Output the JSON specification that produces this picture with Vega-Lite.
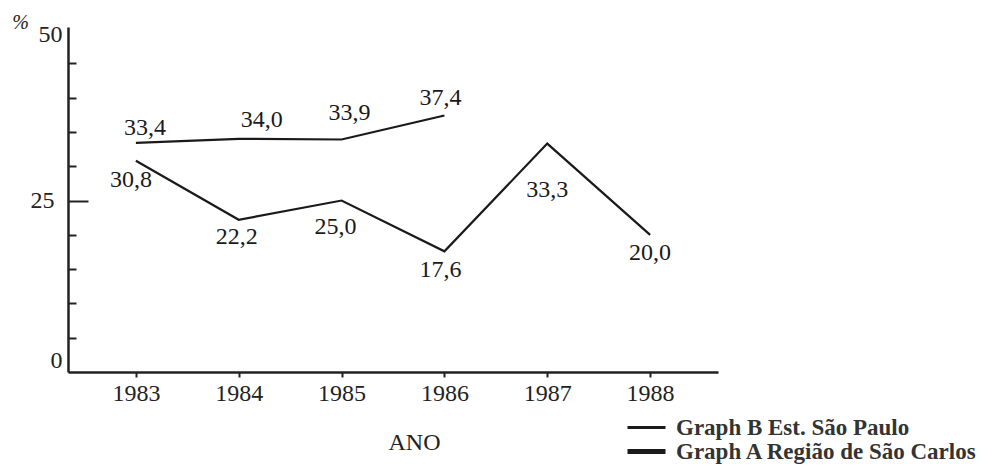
{
  "$schema": "https://vega.github.io/schema/vega-lite/v6.json",
  "width": 650,
  "height": 345,
  "autosize": "none",
  "padding": {"left": 68, "top": 27, "right": 279, "bottom": 93},
  "background": "white",
  "config": {"view": {"stroke": null}, "font": "Liberation Serif", "text": {"fontSize": 24, "color": "#1a1a1a"}},
  "data": {"values": [
    {"ano": "1983", "serie": "Graph B Est. São Paulo", "pct": 33.4, "rotulo": "33,4"},
    {"ano": "1984", "serie": "Graph B Est. São Paulo", "pct": 34.0, "rotulo": "34,0"},
    {"ano": "1985", "serie": "Graph B Est. São Paulo", "pct": 33.9, "rotulo": "33,9"},
    {"ano": "1986", "serie": "Graph B Est. São Paulo", "pct": 37.4, "rotulo": "37,4"},
    {"ano": "1983", "serie": "Graph A Região de São Carlos", "pct": 30.8, "rotulo": "30,8"},
    {"ano": "1984", "serie": "Graph A Região de São Carlos", "pct": 22.2, "rotulo": "22,2"},
    {"ano": "1985", "serie": "Graph A Região de São Carlos", "pct": 25.0, "rotulo": "25,0"},
    {"ano": "1986", "serie": "Graph A Região de São Carlos", "pct": 17.6, "rotulo": "17,6"},
    {"ano": "1987", "serie": "Graph A Região de São Carlos", "pct": 33.3, "rotulo": "33,3"},
    {"ano": "1988", "serie": "Graph A Região de São Carlos", "pct": 20.0, "rotulo": "20,0"}
  ]},
  "encoding": {
    "x": {
      "field": "ano", "type": "ordinal",
      "scale": {"type": "point", "padding": 0.66},
      "axis": {
        "title": "ANO", "labelAngle": 0, "labelFontSize": 24, "labelColor": "#222",
        "labelPadding": 4, "tickSize": 5, "tickWidth": 2, "tickColor": "#222",
        "domainColor": "#222", "domainWidth": 2.5, "grid": false,
        "titleFontSize": 24, "titleFontWeight": "normal", "titleColor": "#222",
        "titleX": 346, "titleY": 70, "titleBaseline": "middle"
      }
    },
    "y": {
      "field": "pct", "type": "quantitative",
      "scale": {"domain": [0, 50.3], "nice": false},
      "axis": {
        "values": [0, 5, 10, 15, 20, 25, 30, 35, 40, 45, 50],
        "labelExpr": "datum.value % 25 == 0 ? datum.value : ''",
        "labelFontSize": 24, "labelColor": "#222",
        "labelPadding": {"condition": [{"test": "datum.value == 25", "value": 34}], "value": 6},
        "labelOffset": {"condition": [{"test": "datum.value == 50", "value": 5}, {"test": "datum.value == 0", "value": -12}], "value": 0},
        "tickSize": {"condition": [{"test": "datum.value == 25", "value": -20}, {"test": "datum.value == 0 || datum.value == 50", "value": 0}], "value": -8},
        "tickWidth": 2, "tickColor": "#222",
        "domainColor": "#222", "domainWidth": 2.5, "grid": false,
        "title": "%", "titleAngle": 0, "titleX": -48, "titleY": -5,
        "titleFontSize": 20, "titleFontStyle": "italic", "titleFontWeight": "normal",
        "titleColor": "#222", "titleAlign": "center", "titleBaseline": "middle"
      }
    }
  },
  "layer": [
    {
      "mark": {"type": "line", "strokeWidth": 2.2},
      "encoding": {
        "color": {
          "field": "serie", "type": "nominal",
          "scale": {"domain": ["Graph B Est. São Paulo", "Graph A Região de São Carlos"], "range": ["#1a1a1a", "#1a1a1a"]},
          "legend": {
            "title": null, "orient": "none", "legendX": 567, "legendY": 389,
            "symbolType": "stroke", "symbolSize": 1444,
            "labelFontSize": 23, "labelFontWeight": "bold", "labelColor": "#333",
            "labelLimit": 500, "labelOffset": 18, "rowPadding": -25, "padding": 0,
            "encode": {"symbols": {"update": {"strokeWidth": {"signal": "datum.value === 'Graph A Região de São Carlos' ? 5 : 3"}}}}
          }
        }
      }
    },
    {"transform": [{"filter": "datum.serie == 'Graph B Est. São Paulo' && datum.ano == '1983'"}], "mark": {"type": "text", "dx": 9, "dy": -15}, "encoding": {"text": {"field": "rotulo"}}},
    {"transform": [{"filter": "datum.serie == 'Graph B Est. São Paulo' && datum.ano == '1984'"}], "mark": {"type": "text", "dx": 23, "dy": -19}, "encoding": {"text": {"field": "rotulo"}}},
    {"transform": [{"filter": "datum.serie == 'Graph B Est. São Paulo' && datum.ano == '1985'"}], "mark": {"type": "text", "dx": 8, "dy": -26}, "encoding": {"text": {"field": "rotulo"}}},
    {"transform": [{"filter": "datum.serie == 'Graph B Est. São Paulo' && datum.ano == '1986'"}], "mark": {"type": "text", "dx": -4, "dy": -17}, "encoding": {"text": {"field": "rotulo"}}},
    {"transform": [{"filter": "datum.serie == 'Graph A Região de São Carlos' && datum.ano == '1983'"}], "mark": {"type": "text", "dx": -5, "dy": 19}, "encoding": {"text": {"field": "rotulo"}}},
    {"transform": [{"filter": "datum.serie == 'Graph A Região de São Carlos' && datum.ano == '1984'"}], "mark": {"type": "text", "dx": -2, "dy": 17}, "encoding": {"text": {"field": "rotulo"}}},
    {"transform": [{"filter": "datum.serie == 'Graph A Região de São Carlos' && datum.ano == '1985'"}], "mark": {"type": "text", "dx": -6, "dy": 26}, "encoding": {"text": {"field": "rotulo"}}},
    {"transform": [{"filter": "datum.serie == 'Graph A Região de São Carlos' && datum.ano == '1986'"}], "mark": {"type": "text", "dx": -4, "dy": 19}, "encoding": {"text": {"field": "rotulo"}}},
    {"transform": [{"filter": "datum.serie == 'Graph A Região de São Carlos' && datum.ano == '1987'"}], "mark": {"type": "text", "dx": 0, "dy": 46}, "encoding": {"text": {"field": "rotulo"}}},
    {"transform": [{"filter": "datum.serie == 'Graph A Região de São Carlos' && datum.ano == '1988'"}], "mark": {"type": "text", "dx": 0, "dy": 18}, "encoding": {"text": {"field": "rotulo"}}}
  ]
}
